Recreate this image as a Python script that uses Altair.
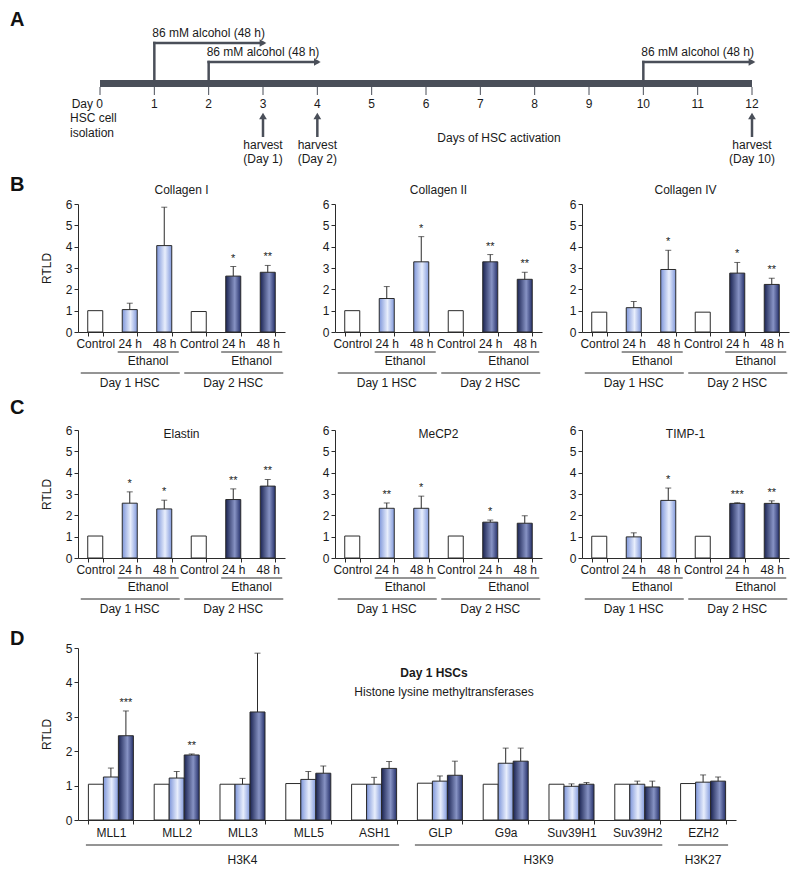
import altair as alt
import pandas as pd

# ---------------- data ----------------
# Panel A: experimental timeline
days = list(range(13))
day_labels = ["Day 0"] + [str(d) for d in range(1, 13)]
isolation_lines = ["HSC cell", "isolation"]
treat_start = [1, 2, 10]
treat_end = [3, 4, 12]
treat_text = ["86 mM alcohol (48 h)", "86 mM alcohol (48 h)", "86 mM alcohol (48 h)"]
harvest_days = [3, 4, 12]
harvest_word = "harvest"
harvest_text = ["(Day 1)", "(Day 2)", "(Day 10)"]
activation_text = "Days of HSC activation"

# Panels B and C
cond_labels = ["Control", "24 h", "48 h", "Control", "24 h", "48 h"]
cond_groups = ["Day 1 HSC", "Day 1 HSC", "Day 1 HSC", "Day 2 HSC", "Day 2 HSC", "Day 2 HSC"]
cond_kind = ["control", "day1", "day1", "control", "day2", "day2"]
ethanol_text = "Ethanol"

panel_titles = ["Collagen I", "Collagen II", "Collagen IV", "Elastin", "MeCP2", "TIMP-1"]
collagen1_mean = [1.00, 1.05, 4.05, 0.96, 2.62, 2.80]
collagen1_sem = [None, 0.30, 1.80, None, 0.45, 0.32]
collagen1_sig = ["", "", "", "", "*", "**"]
collagen2_mean = [1.00, 1.57, 3.29, 1.00, 3.29, 2.47]
collagen2_sem = [None, 0.56, 1.18, None, 0.34, 0.33]
collagen2_sig = ["", "", "*", "", "**", "**"]
collagen4_mean = [0.93, 1.14, 2.93, 0.93, 2.76, 2.23]
collagen4_sem = [None, 0.29, 0.90, None, 0.50, 0.29]
collagen4_sig = ["", "", "*", "", "*", "**"]
elastin_mean = [1.03, 2.57, 2.30, 1.03, 2.74, 3.37]
elastin_sem = [None, 0.53, 0.41, None, 0.50, 0.31]
elastin_sig = ["", "*", "*", "", "**", "**"]
mecp2_mean = [1.03, 2.33, 2.33, 1.03, 1.68, 1.63]
mecp2_sem = [None, 0.25, 0.57, None, 0.10, 0.35]
mecp2_sig = ["", "**", "*", "", "*", ""]
timp1_mean = [1.02, 0.99, 2.70, 1.02, 2.56, 2.56]
timp1_sem = [None, 0.19, 0.58, None, 0.03, 0.12]
timp1_sig = ["", "", "*", "", "***", "**"]

# Panel D
genes = ["MLL1", "MLL2", "MLL3", "MLL5", "ASH1", "GLP", "G9a", "Suv39H1", "Suv39H2", "EZH2"]
gene_family = ["H3K4", "H3K4", "H3K4", "H3K4", "H3K4", "H3K9", "H3K9", "H3K9", "H3K9", "H3K27"]
d_series = ["Control", "Ethanol 24 h", "Ethanol 48 h"]
d_control = [1.04, 1.04, 1.04, 1.06, 1.04, 1.07, 1.04, 1.04, 1.04, 1.06]
d_24h = [1.25, 1.22, 1.04, 1.18, 1.04, 1.13, 1.65, 0.98, 1.04, 1.10]
d_24h_sem = [0.26, 0.19, 0.17, 0.23, 0.20, 0.15, 0.44, 0.07, 0.09, 0.21]
d_48h = [2.45, 1.89, 3.14, 1.36, 1.50, 1.30, 1.71, 1.04, 0.96, 1.13]
d_48h_sem = [0.72, 0.03, 1.71, 0.21, 0.20, 0.41, 0.38, 0.05, 0.17, 0.12]
d_48h_sig = ["***", "**", "", "", "", "", "", "", "", ""]
d_title = "Day 1 HSCs"
d_subtitle = "Histone lysine methyltransferases"

# ---------------- style ----------------
FONT = "Liberation Sans"
INK = "#1a1a1a"
LINE = "#2b2b2b"
SLATE = "#4a4f59"
XW = 207


def gradient(stops):
    return alt.Gradient(gradient="linear", x1=0, x2=1, y1=0, y2=0,
                        stops=[alt.GradientStop(offset=o, color=c) for o, c in stops])


LIGHT = gradient([(0, "#7e96da"), (0.55, "#e8eefc"), (1, "#8199dc")])
DARK = gradient([(0, "#1b2452"), (0.6, "#8793c4"), (1, "#25306a")])
FILLS = {"control": "white", "day1": LIGHT, "day2": DARK}
TXT = dict(fontSize=12, color=INK, baseline="middle")


def x_axis(label_expr=None, pad=2):
    kw = dict(title=None, labelAngle=0, labelFontSize=12, labelColor=INK, labelPadding=pad,
              labelOverlap=False, tickBand="extent", tickSize=4, tickColor=LINE,
              domainColor=LINE, grid=False)
    if label_expr:
        kw["labelExpr"] = label_expr
    return alt.Axis(**kw)


def y_axis(vals, title):
    return alt.Axis(values=vals, title=title, labelFontSize=12, labelColor=INK, labelPadding=2,
                    tickSize=4, tickColor=LINE, domainColor=LINE, grid=False,
                    titleFontSize=12, titleFontWeight="normal", titleColor=INK, titlePadding=12)


def letter(ch, y):
    return alt.Chart(pd.DataFrame({"t": [ch]})).mark_text(
        fontSize=20, fontWeight="bold", align="left", baseline="top", color="#111"
    ).encode(x=alt.value(-68), y=alt.value(y), text="t:N")


def timeline_group():
    TS = alt.Scale(domain=[0, 12], range=[22, 674], nice=False, zero=False)

    def tx(f):
        return alt.X(f"{f}:Q", scale=TS, axis=None)

    day_df = pd.DataFrame({"day": days, "label": day_labels})
    span_df = pd.DataFrame({"d0": [days[0]], "d1": [days[-1]]})
    treat_df = pd.DataFrame({"s": treat_start, "e": treat_end, "text": treat_text})
    treat_df["mid"] = (treat_df["s"] + treat_df["e"]) / 2
    harv_df = pd.DataFrame({"day": harvest_days, "text": harvest_text,
                            "word": [harvest_word] * len(harvest_days)})
    iso_df = pd.DataFrame({"day": [0, 0], "text": isolation_lines})
    L = []
    L.append(alt.Chart(span_df).mark_rect(color=SLATE).encode(
        x=tx("d0"), x2="d1:Q", y=alt.value(-124), y2=alt.value(-117)))
    L.append(alt.Chart(day_df).mark_rule(color=SLATE, strokeWidth=1).encode(
        x=tx("day"), y=alt.value(-117), y2=alt.value(-109)))
    L.append(alt.Chart(day_df).transform_filter("datum.day > 0").mark_text(**TXT).encode(
        x=tx("day"), y=alt.value(-100), text="label:N"))
    L.append(alt.Chart(day_df).transform_filter("datum.day == 0").mark_text(
        align="right", dx=3, **TXT).encode(x=tx("day"), y=alt.value(-100), text="label:N"))
    for j, yv in enumerate([-86, -71]):
        L.append(alt.Chart(iso_df.iloc[[j]]).mark_text(align="left", dx=-30, **TXT).encode(
            x=tx("day"), y=alt.value(yv), text="text:N"))
    for j, lvl in enumerate([-161, -142, -142]):
        one = alt.Chart(treat_df.iloc[[j]])
        L.append(one.mark_rule(color=SLATE, strokeWidth=2.5, strokeCap="square").encode(
            x=tx("s"), y=alt.value(-124), y2=alt.value(lvl)))
        L.append(one.mark_rule(color=SLATE, strokeWidth=2.5, strokeCap="square").encode(
            x=tx("s"), x2="e:Q", y=alt.value(lvl)))
        L.append(one.mark_point(shape="triangle-right", filled=True, size=60, color=SLATE,
                                opacity=1).encode(x=tx("e"), y=alt.value(lvl)))
        L.append(one.mark_text(**TXT).encode(x=tx("mid"), y=alt.value(lvl - 10), text="text:N"))
    hv = alt.Chart(harv_df)
    L.append(hv.mark_rule(color=SLATE, strokeWidth=2.5).encode(
        x=tx("day"), y=alt.value(-67), y2=alt.value(-85)))
    L.append(hv.mark_point(shape="triangle-up", filled=True, size=60, color=SLATE,
                           opacity=1).encode(x=tx("day"), y=alt.value(-88)))
    L.append(hv.mark_text(**TXT).encode(x=tx("day"), y=alt.value(-59), text="word:N"))
    L.append(hv.mark_text(**TXT).encode(x=tx("day"), y=alt.value(-45), text="text:N"))
    L.append(alt.Chart(pd.DataFrame({"t": [activation_text]})).mark_text(**TXT).encode(
        x=alt.value(421), y=alt.value(-66), text="t:N"))
    L.append(letter("A", -194))
    return alt.layer(*L)


def spans(labels, keep=None):
    out = []
    n = len(labels)
    i = 0
    while i < n:
        j = i
        while j < n and labels[j] == labels[i]:
            j += 1
        idx = [k for k in range(i, j) if keep is None or keep[k]]
        if idx:
            out.append((idx[0], idx[-1] + 1, labels[i]))
        i = j
    return out


def bc_panel(idx, mean, sem, sig):
    row_c = idx >= 3
    first = idx % 3 == 0
    H = 136 if row_c else 128
    y_rng = [136, 8] if row_c else [128, 0]
    layout_w = 217 if first else 207
    keys = [f"{l}|{g}" for l, g in zip(cond_labels, cond_groups)]
    df = pd.DataFrame({"key": keys, "kind": cond_kind, "val": mean, "sem": sem, "sig": sig})
    df["top"] = df["val"] + df["sem"].fillna(0)
    xs = alt.Scale(domain=keys, range=[0, XW], paddingInner=0.565, paddingOuter=0.2825)
    ys = alt.Scale(domain=[0, 6], range=y_rng, nice=False, zero=False)
    X = alt.X("key:N", scale=xs,
              axis=x_axis("isString(datum.value) ? split(datum.value, '|')[0] : ''"))
    yax = y_axis(list(range(7)), "RTLD" if first else None)

    def Y(f):
        return alt.Y(f"{f}:Q", scale=ys, axis=yax)

    base = alt.Chart(df)
    layers = []
    for kind in ["control", "day1", "day2"]:
        layers.append(base.transform_filter(f"datum.kind == '{kind}'").mark_bar(
            fill=FILLS[kind], stroke=LINE, strokeWidth=1).encode(x=X, y=Y("val")))
    eb = base.transform_filter("datum.sem > 0")
    layers.append(eb.mark_rule(color=LINE, strokeWidth=1).encode(x=X, y=Y("val"), y2="top:Q"))
    layers.append(eb.mark_tick(color=LINE, thickness=1, size=6, orient="horizontal").encode(
        x=X, y=Y("top")))
    layers.append(base.transform_filter("datum.sig != ''").mark_text(
        fontSize=11, baseline="alphabetic", dy=-5, color=INK).encode(
        x=X, y=Y("top"), text="sig:N"))
    bars = alt.layer(*layers)

    # bracket annotations below the axis
    n = len(keys)
    bx = alt.Scale(domain=[0, n], range=[0, XW], nice=False, zero=False)
    eth = spans(cond_groups, [k != "control" for k in cond_kind])
    day = spans(cond_groups)
    eth_df = pd.DataFrame({"x0": [a + 0.15 for a, b, g in eth], "x1": [b - 0.08 for a, b, g in eth],
                           "mid": [(a + b) / 2 + 0.03 for a, b, g in eth],
                           "text": [ethanol_text] * len(eth)})
    day_df = pd.DataFrame({"x0": [a + 0.08 for a, b, g in day], "x1": [b - 0.05 for a, b, g in day],
                           "mid": [(a + b) / 2 for a, b, g in day], "text": [g for a, b, g in day]})
    bl = []
    for dfb, ly, ty in [(eth_df, H + 20, H + 29), (day_df, H + 41, H + 51)]:
        cb = alt.Chart(dfb)
        bl.append(cb.mark_rule(color=LINE, strokeWidth=1).encode(
            x=alt.X("x0:Q", scale=bx, axis=None), x2="x1:Q", y=alt.value(ly)))
        bl.append(cb.mark_text(**TXT).encode(
            x=alt.X("mid:Q", scale=bx, axis=None), y=alt.value(ty), text="text:N"))
    bl.append(alt.Chart(pd.DataFrame({"t": [panel_titles[idx]]})).mark_text(**TXT).encode(
        x=alt.value(XW / 2), y=alt.value(12 if row_c else -14), text="t:N"))
    if idx == 0:
        bl.append(letter("B", -29))
    if idx == 3:
        bl.append(letter("C", -24))
    groups = [bars, alt.layer(*bl)]
    if idx == 0:
        groups.append(timeline_group())
    return alt.layer(*groups).resolve_scale(x="independent").properties(width=layout_w, height=H)


def d_panel():
    H, W = 172, 658
    rows = []
    for i, g in enumerate(genes):
        rows.append({"gene": g, "series": d_series[0], "kind": "control", "val": d_control[i], "sem": None, "sig": ""})
        rows.append({"gene": g, "series": d_series[1], "kind": "day1", "val": d_24h[i], "sem": d_24h_sem[i], "sig": ""})
        rows.append({"gene": g, "series": d_series[2], "kind": "day2", "val": d_48h[i], "sem": d_48h_sem[i], "sig": d_48h_sig[i]})
    df = pd.DataFrame(rows)
    df["top"] = df["val"] + df["sem"].fillna(0)
    xs = alt.Scale(domain=genes, range=[0, W], paddingInner=0.316, paddingOuter=0.158)
    xo = alt.Scale(domain=d_series, paddingInner=0, paddingOuter=0)
    ys = alt.Scale(domain=[0, 5], range=[H, 0], nice=False, zero=False)
    X = alt.X("gene:N", scale=xs, axis=x_axis(None, pad=3))
    XO = alt.XOffset("series:N", scale=xo)
    yax = y_axis(list(range(6)), "RTLD")

    def Y(f):
        return alt.Y(f"{f}:Q", scale=ys, axis=yax)

    base = alt.Chart(df)
    layers = []
    for kind in ["control", "day1", "day2"]:
        layers.append(base.transform_filter(f"datum.kind == '{kind}'").mark_bar(
            fill=FILLS[kind], stroke=LINE, strokeWidth=1).encode(x=X, xOffset=XO, y=Y("val")))
    eb = base.transform_filter("datum.sem > 0")
    layers.append(eb.mark_rule(color=LINE, strokeWidth=1).encode(
        x=X, xOffset=XO, y=Y("val"), y2="top:Q"))
    layers.append(eb.mark_tick(color=LINE, thickness=1, size=6, orient="horizontal").encode(
        x=X, xOffset=XO, y=Y("top")))
    layers.append(base.transform_filter("datum.sig != ''").mark_text(
        fontSize=11, baseline="alphabetic", dy=-5, color=INK).encode(
        x=X, xOffset=XO, y=Y("top"), text="sig:N"))
    bars = alt.layer(*layers)

    n = len(genes)
    bx = alt.Scale(domain=[0, n], range=[0, W], nice=False, zero=False)
    fam = spans(gene_family)
    fam_df = pd.DataFrame({"x0": [a + 0.12 for a, b, g in fam], "x1": [b - 0.12 for a, b, g in fam],
                           "mid": [(a + b) / 2 for a, b, g in fam], "text": [g for a, b, g in fam]})
    cb = alt.Chart(fam_df)
    bl = [
        cb.mark_rule(color=LINE, strokeWidth=1).encode(
            x=alt.X("x0:Q", scale=bx, axis=None), x2="x1:Q", y=alt.value(H + 25)),
        cb.mark_text(**TXT).encode(
            x=alt.X("mid:Q", scale=bx, axis=None), y=alt.value(H + 40), text="text:N"),
        alt.Chart(pd.DataFrame({"t": [d_title]})).mark_text(fontWeight="bold", **TXT).encode(
            x=alt.value(356), y=alt.value(25), text="t:N"),
        alt.Chart(pd.DataFrame({"t": [d_subtitle]})).mark_text(**TXT).encode(
            x=alt.value(366), y=alt.value(44), text="t:N"),
        letter("D", -19),
    ]
    # layout width equals the first column; the scales' explicit ranges span the full 658 px
    return alt.layer(bars, alt.layer(*bl)).resolve_scale(x="independent").properties(width=217, height=H)


panels = [
    (collagen1_mean, collagen1_sem, collagen1_sig),
    (collagen2_mean, collagen2_sem, collagen2_sig),
    (collagen4_mean, collagen4_sem, collagen4_sig),
    (elastin_mean, elastin_sem, elastin_sig),
    (mecp2_mean, mecp2_sem, mecp2_sig),
    (timp1_mean, timp1_sem, timp1_sig),
]
charts = [bc_panel(i, *p) for i, p in enumerate(panels)] + [d_panel()]

chart = alt.concat(
    *charts, columns=3, spacing={"row": 90, "column": 40}, bounds="flush", align="each",
).properties(
    padding={"left": 2, "top": 2, "right": 2, "bottom": 2}
).configure(font=FONT).configure_view(stroke=None)

chart.save("out.html", embed_options={"renderer": "svg", "actions": False})
